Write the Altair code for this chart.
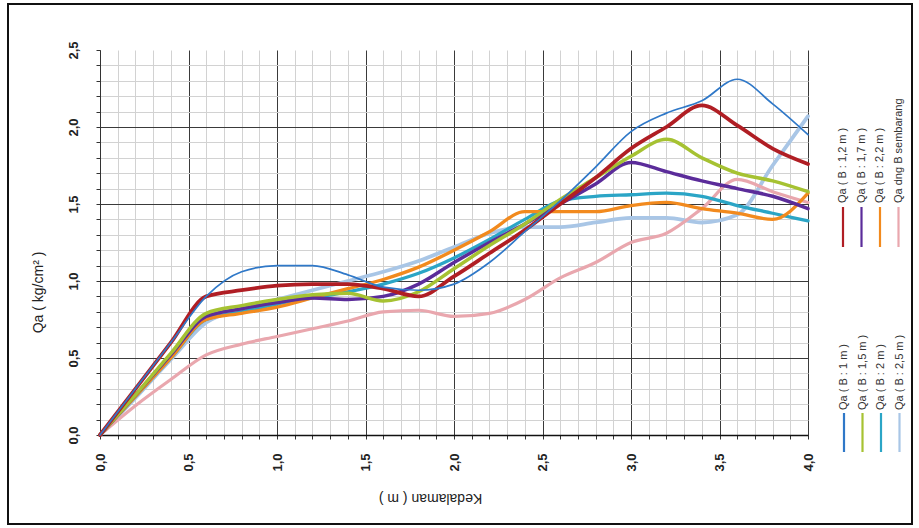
import altair as alt
import pandas as pd

depth = [0.0, 0.2, 0.4, 0.6, 0.8, 1.0, 1.2, 1.4, 1.6, 1.8, 2.0,
         2.2, 2.4, 2.6, 2.8, 3.0, 3.2, 3.4, 3.6, 3.8, 4.0]

qa_b1_0 = [0, 0.30, 0.60, 0.90, 1.06, 1.10, 1.10, 1.04, 0.96, 0.94, 0.98,
           1.12, 1.32, 1.52, 1.74, 1.97, 2.09, 2.17, 2.31, 2.15, 1.95]
qa_b1_2 = [0, 0.30, 0.60, 0.90, 0.94, 0.97, 0.98, 0.98, 0.95, 0.90, 1.03,
           1.18, 1.33, 1.50, 1.67, 1.86, 2.00, 2.14, 2.01, 1.86, 1.76]
qa_b1_5 = [0, 0.26, 0.53, 0.79, 0.84, 0.88, 0.91, 0.92, 0.87, 0.93, 1.08,
           1.23, 1.37, 1.53, 1.67, 1.81, 1.92, 1.80, 1.70, 1.65, 1.58]
qa_b1_7 = [0, 0.26, 0.52, 0.77, 0.82, 0.86, 0.89, 0.88, 0.90, 0.98, 1.12,
           1.25, 1.37, 1.50, 1.63, 1.77, 1.71, 1.65, 1.60, 1.55, 1.47]
qa_b2_0 = [0, 0.25, 0.50, 0.75, 0.80, 0.85, 0.89, 0.93, 0.98, 1.05, 1.15,
           1.27, 1.40, 1.52, 1.55, 1.56, 1.57, 1.55, 1.49, 1.44, 1.39]
qa_b2_2 = [0, 0.25, 0.50, 0.75, 0.79, 0.83, 0.89, 0.95, 1.01, 1.09, 1.20,
           1.32, 1.45, 1.45, 1.45, 1.49, 1.51, 1.47, 1.44, 1.40, 1.57]
qa_b2_5 = [0, 0.24, 0.49, 0.73, 0.82, 0.88, 0.94, 1.00, 1.06, 1.13, 1.22,
           1.31, 1.35, 1.35, 1.38, 1.41, 1.41, 1.38, 1.43, 1.75, 2.07]
qa_bebas = [0, 0.19, 0.36, 0.52, 0.59, 0.64, 0.69, 0.74, 0.80, 0.81, 0.77,
            0.79, 0.88, 1.02, 1.12, 1.25, 1.31, 1.47, 1.66, 1.58, 1.51]

names_group1 = ["Qa ( B : 1,2 m )", "Qa ( B : 1,7 m )", "Qa ( B : 2,2 m )", "Qa dng B sembarang"]
names_group2 = ["Qa ( B : 1 m )", "Qa ( B : 1,5 m )", "Qa ( B : 2 m )", "Qa ( B : 2,5 m )"]

series_values = {
    "Qa ( B : 2,5 m )": qa_b2_5,
    "Qa dng B sembarang": qa_bebas,
    "Qa ( B : 2 m )": qa_b2_0,
    "Qa ( B : 2,2 m )": qa_b2_2,
    "Qa ( B : 1,7 m )": qa_b1_7,
    "Qa ( B : 1,5 m )": qa_b1_5,
    "Qa ( B : 1,2 m )": qa_b1_2,
    "Qa ( B : 1 m )": qa_b1_0,
}
color_map = {
    "Qa ( B : 1 m )": "#2F78C8",
    "Qa ( B : 1,2 m )": "#B01E24",
    "Qa ( B : 1,5 m )": "#A6C232",
    "Qa ( B : 1,7 m )": "#5B2C9A",
    "Qa ( B : 2 m )": "#2BA5C6",
    "Qa ( B : 2,2 m )": "#F28A1E",
    "Qa ( B : 2,5 m )": "#A9C6E6",
    "Qa dng B sembarang": "#E9A7AE",
}

rows = []
for order, (name, vals) in enumerate(series_values.items()):
    for d, v in zip(depth, vals):
        rows.append({"series": name, "depth": d, "qa": v, "ord": order})
df = pd.DataFrame(rows)

dom = list(color_map.keys())
col_scale = alt.Scale(domain=dom, range=[color_map[k] for k in dom])
x_ticks = [round(i * 0.1, 1) for i in range(41)]
y_ticks = [round(i * 0.1, 1) for i in range(26)]

lab_expr = ("(abs(datum.value*2 - round(datum.value*2)) < 0.001) ? "
            "replace(format(datum.value, '.1f'), '.', ',') : ''")
major = "abs(datum.value*2 - round(datum.value*2)) < 0.001"
grid_color = {"condition": {"test": major, "value": "#3a3a3a"}, "value": "#d2d2d2"}

x_axis = alt.Axis(values=x_ticks, labelExpr=lab_expr, labelAngle=270,
                  labelAlign="right", labelBaseline="middle", labelPadding=14,
                  labelFont="Liberation Sans", labelFontSize=13, labelFontWeight="bold",
                  labelColor="#222", tickSize=4, tickColor="#333",
                  domainColor="#111", domainWidth=1.5, gridColor=grid_color,
                  title="Kedalaman ( m )", titleAngle=180, titleX=330, titleY=62,
                  titleAlign="center", titleBaseline="middle",
                  titleFont="Liberation Sans", titleFontSize=14, titleFontWeight="normal",
                  titleColor="#222")
y_axis = alt.Axis(values=y_ticks, labelExpr=lab_expr, labelAngle=270,
                  labelAlign="center", labelBaseline="bottom", labelPadding=16,
                  labelFont="Liberation Sans", labelFontSize=13, labelFontWeight="bold",
                  labelColor="#222", tickSize=4, tickColor="#333",
                  domainColor="#333", gridColor=grid_color,
                  gridOpacity={"condition": {"test": "datum.value > 2.45", "value": 0}, "value": 1},
                  title="Qa ( kg/cm² )", titleAngle=270, titleX=-62, titleY=242,
                  titleAlign="center", titleBaseline="middle",
                  titleFont="Liberation Sans", titleFontSize=14, titleFontWeight="normal",
                  titleColor="#222")

X = alt.X("depth:Q", scale=alt.Scale(domain=[0, 4], nice=False), axis=x_axis)
Y = alt.Y("qa:Q", scale=alt.Scale(domain=[0, 2.5], nice=False), axis=y_axis)
C = alt.Color("series:N", scale=col_scale, legend=None)


def series_layer(names, width):
    return alt.Chart(df).transform_filter(
        alt.FieldOneOfPredicate(field="series", oneOf=names)
    ).mark_line(interpolate="monotone", strokeWidth=width, strokeCap="round",
                strokeJoin="round").encode(x=X, y=Y, color=C, order="ord:Q", detail="series:N")


lines = alt.layer(
    series_layer(["Qa ( B : 2,5 m )"], 3.8),
    series_layer(["Qa dng B sembarang"], 3.2),
    series_layer(["Qa ( B : 2 m )", "Qa ( B : 2,2 m )"], 3.3),
    series_layer(["Qa ( B : 1,7 m )", "Qa ( B : 1,5 m )"], 3.5),
    series_layer(["Qa ( B : 1,2 m )"], 3.8),
    series_layer(["Qa ( B : 1 m )"], 1.7),
)

leg1 = pd.DataFrame({"name": names_group1, "idx": list(range(4))})
leg2 = pd.DataFrame({"name": names_group2, "idx": list(range(4))})


def legend_layers(ldf, x0, line_top, line_bot, text_y):
    base = alt.Chart(ldf).transform_calculate(lx=f"{x0} + 18.5*datum.idx")
    rule = base.mark_rule(strokeWidth=2.2).encode(
        x=alt.X("lx:Q", scale=None),
        y=alt.value(line_top), y2=alt.value(line_bot),
        color=alt.Color("name:N", scale=col_scale, legend=None),
    )
    txt = base.mark_text(angle=270, align="left", baseline="middle",
                         font="Liberation Sans", fontSize=11, color="#333").encode(
        x=alt.X("lx:Q", scale=None),
        y=alt.value(text_y),
        text="name:N",
    )
    return rule + txt


lg1 = legend_layers(leg1, 743, 157, 197, 153)
lg2 = legend_layers(leg2, 744, 363, 402, 360)

frame = alt.Chart(pd.DataFrame({"a": [0]})).mark_rect(fill="transparent", stroke="#111", strokeWidth=2).encode(
    x=alt.value(-92), x2=alt.value(812), y=alt.value(-46), y2=alt.value(474)
)

chart = alt.layer(lines, lg1, lg2, frame).properties(
    width=708, height=385,
    autosize=alt.AutoSizeParams(type="none"),
    padding={"left": 100, "top": 50, "right": 111, "bottom": 93},
    background="white",
).configure_view(stroke=None)

chart.save("out.html", embed_options={"renderer": "svg", "actions": False})
